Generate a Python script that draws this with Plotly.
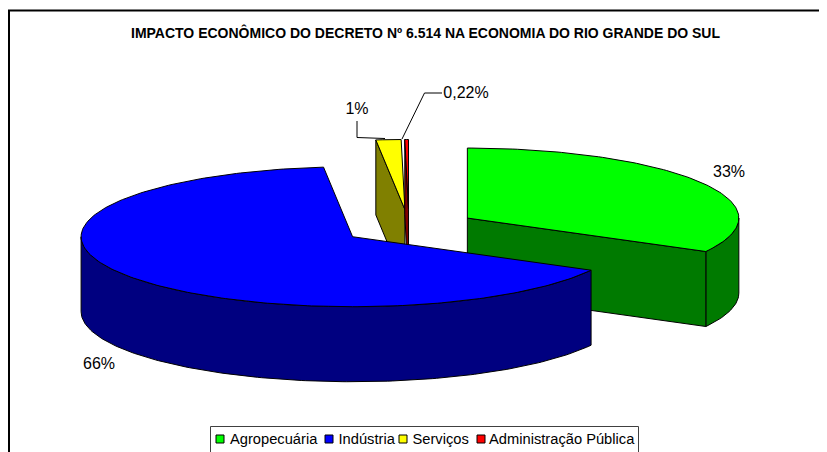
import numpy as np
import plotly.graph_objects as go

categories = ["Agropecuária", "Indústria", "Serviços", "Administração Pública"]
shares = [33.0, 65.5, 1.49, 0.22]
labels = ["33%", "66%", "1%", "0,22%"]
top_colors = ["#00FF00", "#0000FF", "#FFFF00", "#FF0000"]
side_colors = ["#007A00", "#000080", "#808000", "#800000"]

W, H = 827, 452
PAGE = 8  # the page's own margin: axes below are expressed in window pixels
CX, CY, RX, RY, DEPTH, EXPLODE = 409, 227, 271.5, 70, 75, 0.25
FONT = "Liberation Sans, Arial, sans-serif"

total = sum(shares)
edges = np.concatenate([[0], np.cumsum(shares)]) / total * 2 * np.pi
slices = []
for i in range(len(shares)):
    a, b = edges[i], edges[i + 1]
    m = (a + b) / 2
    slices.append(dict(a=a, b=b,
                       ox=CX + EXPLODE * RX * np.sin(m),
                       oy=CY - EXPLODE * RY * np.cos(m)))


def rim(s, a, b, dz=0):
    t = np.linspace(a, b, max(3, int(abs(b - a) * 60)))
    return s["ox"] + RX * np.sin(t), s["oy"] - RY * np.cos(t) + dz


fig = go.Figure()


def poly(xs, ys, color):
    fig.add_trace(go.Scatter(x=list(xs), y=list(ys), mode="lines", fill="toself",
                             fillcolor=color, showlegend=False, hoverinfo="skip",
                             line=dict(color="#000000", width=1)))


def side_face(s, ang, color):
    rx, ry = rim(s, ang, ang)
    x0, y0 = rx[0], ry[0]
    poly([s["ox"], x0, x0, s["ox"], s["ox"]],
         [s["oy"], y0, y0 + DEPTH, s["oy"] + DEPTH, s["oy"]], color)


def wall(s, a, b, color):
    if b <= a:
        return
    x1, y1 = rim(s, a, b)
    x2, y2 = rim(s, a, b, DEPTH)
    poly(np.r_[x1, x2[::-1], x1[0]], np.r_[y1, y2[::-1], y1[0]], color)


def top(s, color):
    x, y = rim(s, s["a"], s["b"])
    poly(np.r_[s["ox"], x, s["ox"]], np.r_[s["oy"], y, s["oy"]], color)


def draw(i):
    s = slices[i]
    wall(s, max(s["a"], np.pi / 2), min(s["b"], 3 * np.pi / 2), side_colors[i])
    if np.pi / 2 < s["b"] % (2 * np.pi) < np.pi * 1.5:
        side_face(s, s["b"], side_colors[i])
    if s["a"] > np.pi * 1.5:
        side_face(s, s["a"], side_colors[i])
    top(s, top_colors[i])


for i in [0, 2, 3, 1]:
    draw(i)

fig.add_trace(go.Scatter(x=[357, 357, 385], y=[121, 137.5, 138.5], mode="lines",
                         line=dict(color="#000000", width=1), showlegend=False, hoverinfo="skip"))
fig.add_trace(go.Scatter(x=[402, 424.5, 442], y=[139, 93, 93], mode="lines",
                         line=dict(color="#000000", width=1), showlegend=False, hoverinfo="skip"))

label_x = [729, 99, 357, 466]
label_y = [173, 365, 110, 94]
fig.add_trace(go.Scatter(x=label_x, y=label_y, mode="text", text=labels,
                         textposition="middle center",
                         textfont=dict(family=FONT, size=16, color="#000000"),
                         showlegend=False, hoverinfo="skip"))

swatch_x = [220, 329, 403, 481]
text_x = [230, 338.5, 412.5, 489]
LEG_Y = 439
fig.add_trace(go.Scatter(x=swatch_x, y=[LEG_Y] * 4, mode="markers",
                         marker=dict(symbol="square", size=8, color=top_colors,
                                     line=dict(color="#000000", width=1)),
                         showlegend=False, hoverinfo="skip"))
fig.add_trace(go.Scatter(x=text_x, y=[LEG_Y + 1.5] * 4, mode="text", text=categories,
                         textposition="middle right",
                         textfont=dict(family=FONT, size=14.7, color="#000000"),
                         showlegend=False, hoverinfo="skip"))

fig.update_layout(
    width=W - PAGE, height=H - PAGE, margin=dict(l=0, r=0, t=0, b=0),
    paper_bgcolor="#FFFFFF", plot_bgcolor="#FFFFFF",
    xaxis=dict(range=[PAGE, W], visible=False, fixedrange=True),
    yaxis=dict(range=[H, PAGE], visible=False, fixedrange=True),
    shapes=[
        dict(type="rect", xref="x", yref="y", x0=9, y0=10.5, x1=860, y1=480,
             line=dict(color="#000000", width=2), layer="below"),
        dict(type="rect", xref="x", yref="y", x0=210.5, y0=426.5, x1=638.5, y1=480,
             line=dict(color="#404040", width=1), layer="below"),
    ],
    annotations=[dict(text="<b>IMPACTO ECONÔMICO DO DECRETO Nº 6.514 NA ECONOMIA DO RIO GRANDE DO SUL</b>",
                      xref="x", yref="y", x=425.5, y=32, showarrow=False,
                      xanchor="center", yanchor="middle",
                      font=dict(family=FONT, size=14, color="#000000"))],
)
fig.write_html("out.html")
